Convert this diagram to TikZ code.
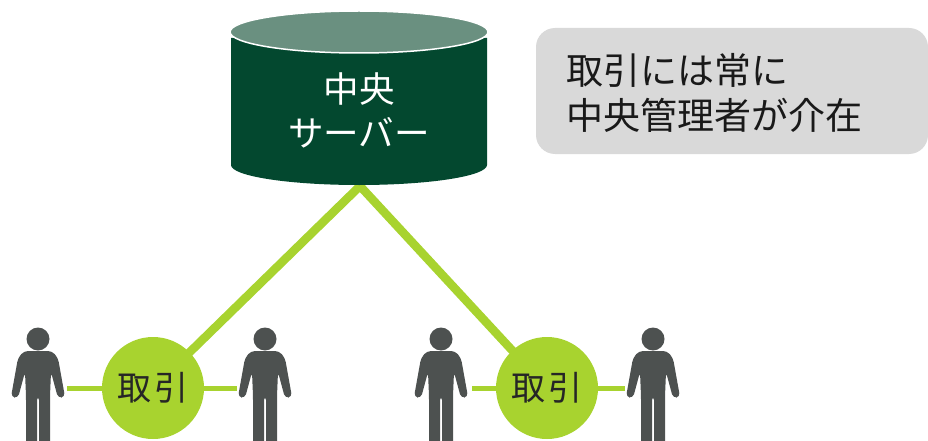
\documentclass[tikz,border=0pt]{standalone}
\usepackage{fontspec}
\setmainfont{Noto Sans CJK JP}
\definecolor{srvdark}{HTML}{03482F}
\definecolor{srvtop}{HTML}{6A9080}
\definecolor{lime}{HTML}{A8D32F}
\definecolor{personc}{HTML}{4D5150}
\definecolor{notegray}{HTML}{D9D9D9}
\tikzset{
  x=1pt,y=-1pt,
  deal/.style={circle,fill=lime,minimum size=102pt,inner sep=0pt,font=\fontsize{34}{40}\selectfont,text=black!85},
  link/.style={draw=lime,line width=8.5pt,line join=miter},
  hand/.style={draw=lime,line width=5pt},
  srvtext/.style={text=white,align=center,inner sep=0pt,font=\fontsize{35.5}{44}\selectfont},
  notetext/.style={text=black!90,align=left,anchor=north west,inner sep=0pt,font=\fontsize{37}{45}\selectfont},
  person/.pic={
    \fill[personc] (0,-49) circle (11.5);
    \fill[personc,rounded corners=4pt] (-14,-37) -- (14,-37) -- (20,-30) -- (27,9) -- (20,10) -- (13,-16) -- (12,8) -- (12,60) -- (1,60) -- (1,8) -- (-1,8) -- (-1,60) -- (-12,60) -- (-12,8) -- (-13,-16) -- (-20,10) -- (-27,9) -- (-20,-30) -- cycle;
  }
}
\begin{document}
\begin{tikzpicture}
\useasboundingbox (0,0) rectangle (928,441);
% note
\fill[notegray,rounded corners=19pt] (536,28) rectangle (928,154);
\node[notetext] (note) at (566,53) {取引には常に\\中央管理者が介在};
% people and connector ends
\pic at (38,388) {person};
\pic at (265,388) {person};
\pic at (441,388) {person};
\pic at (653,388) {person};
\coordinate (p1) at (67,388);
\coordinate (p2) at (237,388);
\coordinate (p3) at (472,388);
\coordinate (p4) at (625,388);
\coordinate (apex) at (360,186);
\coordinate (centerA) at (153,388);
\coordinate (centerB) at (547,388);
% connectors
\draw[hand] (p1) -- (centerA);
\draw[hand] (centerA) -- (p2);
\draw[hand] (p3) -- (centerB);
\draw[hand] (centerB) -- (p4);
\draw[link] (centerA) -- (apex) -- (centerB);
\node[deal] (dealA) at (centerA) {取\hspace{4pt}引};
\node[deal] (dealB) at (centerB) {取\hspace{4pt}引};
% server
\fill[srvdark] (231,38) -- (231,165) arc[start angle=180,end angle=360,x radius=128,y radius=-20] -- (487,38) -- cycle;
\draw[white,line width=1.5pt,fill=srvtop] (359,32) ellipse[x radius=129,y radius=21];
\node[srvtext] (server) at (359,110) {中央\\サーバー};
\end{tikzpicture}
\end{document}
